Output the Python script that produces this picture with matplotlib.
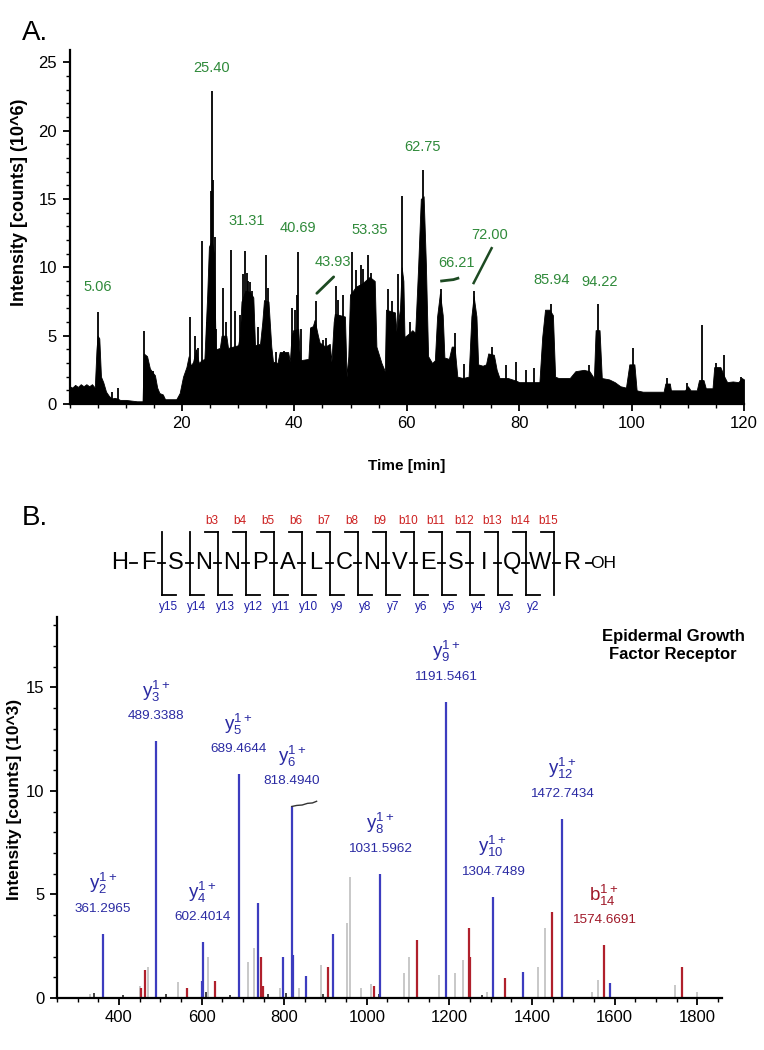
import matplotlib
matplotlib.use("Agg")
import matplotlib.pyplot as plt
from matplotlib import font_manager as fm
from matplotlib.lines import Line2D
from matplotlib.ticker import MultipleLocator

# ---------------- Panel A: chromatogram ----------------
tic_time = [0.0, 0.5, 1.0, 1.5, 2.0, 2.5, 3.0, 3.5, 4.0, 4.5, 4.8, 5.0, 5.3, 5.6, 6.0, 6.5,
            7.0, 7.5, 8.0, 8.5, 9.0, 10.0, 11.0, 12.0, 13.0, 13.2, 13.8, 14.3, 14.8, 15.2,
            15.6, 16.0, 16.6, 17.0, 19.0, 19.6, 20.2, 20.8, 21.2, 21.6, 22.0, 22.5, 23.0,
            23.5, 24.0, 24.5, 24.8, 25.3, 25.7, 26.0, 26.75, 27.05, 27.9, 28.2, 29.1, 30.0,
            30.3, 30.6, 31.3, 32.1, 32.7, 33.0, 33.9, 34.3, 34.6, 35.4, 35.9, 36.2, 37.0,
            37.4, 38.9, 39.2, 39.5, 39.8, 40.7, 41.0, 42.5, 42.8, 43.3, 43.6, 44.2, 44.5,
            45.5, 46.3, 46.6, 47.0, 47.2, 49.0, 49.3, 49.6, 49.9, 51.0, 52.0, 53.4, 54.3,
            54.6, 55.5, 56.1, 56.3, 57.9, 58.2, 58.8, 59.1, 59.4, 59.6, 60.5, 61.0, 61.5,
            62.0, 62.5, 63.0, 63.4, 63.8, 64.5, 65.0, 65.4, 65.9, 66.4, 66.7, 67.5, 68.0,
            68.5, 69.0, 70.0, 71.0, 71.5, 71.9, 72.4, 72.7, 73.5, 74.1, 74.5, 75.5, 76.0,
            76.5, 78.0, 79.5, 80.0, 82.0, 83.6, 84.1, 84.6, 85.4, 86.0, 86.4, 87.0, 89.0,
            90.0, 91.5, 92.5, 93.3, 93.6, 94.3, 94.7, 96.0, 97.0, 98.0, 99.0, 99.6, 100.5,
            100.9, 102.0, 104.0, 105.7, 106.0, 106.8, 107.0, 109.5, 110.0, 110.5, 111.6,
            112.0, 112.8, 113.2, 114.4, 114.7, 115.8, 116.5, 117.0, 118.0, 119.0, 119.6, 120.0]
tic_int = [1.3, 1.2, 1.4, 1.25, 1.45, 1.3, 1.45, 1.3, 1.45, 1.2, 4.0, 5.0, 4.8, 2.0, 1.6, 0.9,
           0.6, 0.4, 0.45, 0.4, 0.3, 0.3, 0.25, 0.2, 0.2, 3.7, 3.5, 2.6, 2.3, 2.1,
           1.2, 0.8, 0.7, 0.35, 0.35, 0.8, 2.0, 2.7, 3.5, 2.8, 3.1, 4.0, 3.0,
           3.2, 3.3, 8.0, 11.5, 12.0, 11.0, 4.0, 4.1, 5.0, 5.0, 4.1, 4.2, 4.3,
           5.0, 7.5, 8.3, 8.2, 7.8, 4.3, 4.4, 6.0, 7.6, 7.5, 4.2, 3.1, 3.0,
           3.8, 3.8, 3.1, 5.0, 5.4, 5.5, 3.2, 3.3, 5.6, 5.7, 6.15, 5.0, 4.5,
           4.2, 4.4, 3.1, 6.0, 6.6, 6.4, 2.0, 3.5, 8.0, 8.6, 8.8, 9.3, 9.0,
           4.2, 3.0, 2.4, 6.9, 6.7, 5.2, 7.0, 10.0, 9.0, 4.9, 5.2, 5.4, 5.2,
           9.8, 15.0, 15.2, 10.3, 3.5, 3.0, 3.2, 6.4, 8.1, 6.5, 3.4, 3.3, 4.2,
           4.2, 2.0, 1.9, 2.0, 6.4, 7.9, 6.4, 2.9, 2.8, 2.9, 3.7, 3.6, 2.5,
           1.9, 1.9, 1.7, 1.6, 1.6, 1.6, 4.9, 6.9, 6.9, 6.5, 2.0, 1.9, 1.9,
           2.4, 2.5, 2.4, 1.9, 5.4, 5.4, 1.9, 1.8, 1.6, 1.3, 1.2, 2.9, 2.9,
           1.0, 0.9, 0.9, 0.9, 1.5, 1.5, 1.0, 1.0, 1.3, 1.0, 1.0,
           1.75, 1.75, 1.15, 1.15, 2.7, 2.7, 2.0, 1.6, 1.65, 1.6, 1.9, 1.8]
spike_time = [5.06, 7.5, 8.7, 13.3, 14.9, 21.4, 22.3, 22.9, 23.6, 24.4, 25.1, 25.4, 25.55,
              25.8, 26.1, 27.3, 27.8, 28.8, 29.4, 30.3, 30.8, 31.3, 31.5, 31.7, 32.1, 32.4,
              33.5, 34.9, 35.3, 36.8, 38.1, 39.5, 40.1, 40.4, 40.7, 41.1, 43.0, 43.9, 45.1,
              45.6, 47.4, 47.8, 48.6, 50.3, 51.0, 51.9, 52.2, 53.1, 53.7, 56.7, 57.3, 58.5,
              59.2, 60.6, 62.9, 66.1, 68.5, 70.2, 71.9, 75.1, 77.6, 79.4, 81.2, 82.7, 85.0,
              85.6, 92.4, 94.0, 100.3, 106.3, 109.9, 112.5, 115.0, 116.4, 119.5]
spike_int = [6.75, 0.9, 1.16, 5.35, 2.4, 6.4, 5.0, 4.1, 11.9, 6.0, 15.6, 22.9, 16.4,
             12.2, 5.5, 8.5, 6.0, 11.25, 6.8, 6.5, 9.5, 11.2, 9.6, 9.0, 8.9, 8.3,
             5.6, 10.9, 8.5, 3.8, 3.9, 7.0, 6.9, 7.95, 11.1, 5.5, 5.5, 7.5, 4.7,
             4.8, 8.6, 7.6, 8.0, 11.1, 9.8, 10.2, 9.9, 10.9, 9.6, 8.45, 7.5, 9.5,
             15.2, 6.0, 17.1, 8.4, 5.17, 2.9, 8.3, 4.2, 2.85, 3.1, 2.5, 2.6, 6.7,
             7.35, 2.85, 7.35, 4.1, 1.9, 1.5, 5.8, 3.0, 3.57, 2.0]
rt_labels = ["5.06", "25.40", "31.31", "40.69", "43.93", "53.35",
             "62.75", "66.21", "72.00", "85.94", "94.22"]

# ---------------- Panel B: MS/MS spectrum ----------------
blue_mz = [361.3, 489.3, 600.5, 602.4, 689.5, 736.5, 797.0, 818.5, 820.5, 853.0, 918.0,
           1031.6, 1191.5, 1304.7, 1377.0, 1472.7, 1590.0]
blue_int = [3.1, 12.4, 0.8, 2.7, 10.8, 4.6, 2.0, 9.25, 2.1, 1.07, 3.1,
            6.0, 14.3, 4.9, 1.27, 8.65, 0.72]
red_mz = [453, 464, 564, 632, 745, 748, 906, 1018, 1121, 1247, 1249, 1335, 1448, 1574.7, 1763]
red_int = [0.5, 1.36, 0.5, 0.8, 2.0, 0.6, 1.5, 0.56, 2.8, 3.4, 2.0, 0.95, 4.15, 2.56, 1.5]
gray_mz = [330, 450, 471, 543, 616, 712, 727, 790, 835, 889, 952, 959, 985, 1010, 1090,
           1102, 1175, 1213, 1232, 1292, 1414, 1431, 1545, 1560, 1746, 1800]
gray_int = [0.2, 0.6, 1.5, 0.75, 2.0, 1.75, 2.4, 0.5, 0.5, 1.6, 3.6, 5.85, 0.5, 0.7, 1.2,
            2.0, 1.1, 1.2, 1.84, 0.3, 1.5, 3.4, 0.3, 0.85, 0.65, 0.3]
black_mz = [340, 410, 515, 610, 668, 760, 805, 895, 1030, 1280]
black_int = [0.25, 0.15, 0.2, 0.3, 0.15, 0.2, 0.25, 0.2, 0.2, 0.15]

ion_type = ["y", "y", "y", "y", "y", "y", "y", "y", "y", "b"]
ion_sub = ["2", "3", "4", "5", "6", "8", "9", "10", "12", "14"]
ion_mz = [361.2965, 489.3388, 602.4014, 689.4644, 818.4940, 1031.5962,
          1191.5461, 1304.7489, 1472.7434, 1574.6691]
ion_int = [3.1, 12.4, 2.7, 10.8, 9.25, 6.0, 14.3, 4.9, 8.65, 2.56]

residues = ["H", "F", "S", "N", "N", "P", "A", "L", "C", "N", "V", "E", "S", "I", "Q", "W", "R"]
b_labels = ["b3", "b4", "b5", "b6", "b7", "b8", "b9", "b10", "b11", "b12", "b13", "b14", "b15"]
y_labels = ["y15", "y14", "y13", "y12", "y11", "y10", "y9", "y8", "y7", "y6", "y5", "y4", "y3", "y2"]

# ---------------- fonts ----------------
names = {f.name for f in fm.fontManager.ttflist}
HAS_NARROW = "Liberation Sans Narrow" in names
NARROW = "Liberation Sans Narrow" if HAS_NARROW else "Liberation Sans"
plt.rcParams["font.family"] = [NARROW, "DejaVu Sans"]
plt.rcParams["mathtext.default"] = "regular"
TICK_FS = 13 if HAS_NARROW else 12
NUM_FS = 11 if HAS_NARROW else 9.7
GLAB_FS = 12 if HAS_NARROW else 10.5

W, H = 764, 1050
fig = plt.figure(figsize=(W / 100, H / 100), dpi=100)


def fx(x):
    return x / W


def fy(y):
    return 1 - y / H


def style_axes(ax):
    for s in ("top", "right"):
        ax.spines[s].set_visible(False)
    for s in ("left", "bottom"):
        ax.spines[s].set_linewidth(1.6)
    ax.tick_params(which="major", direction="out", length=5, width=1.3,
                   labelsize=TICK_FS, pad=4)
    ax.tick_params(which="minor", direction="out", length=3, width=1.0)


# ---------------- Panel A ----------------
axA = fig.add_axes([fx(69.5), fy(404), fx(744) - fx(69.5), fy(50) - fy(404)])
axA.fill_between(tic_time, 0, tic_int, color="black", lw=0.6, edgecolor="black")
axA.vlines(spike_time, 0, spike_int, color="black", lw=1.3)
axA.set_xlim(0, 120)
axA.set_ylim(0, 25.9)
axA.set_xticks([20, 40, 60, 80, 100, 120])
axA.set_yticks([0, 5, 10, 15, 20, 25])
axA.xaxis.set_minor_locator(MultipleLocator(5))
axA.yaxis.set_minor_locator(MultipleLocator(1))
style_axes(axA)
axA.set_xlabel("Time [min]", fontsize=11, fontweight="bold", family="Liberation Sans")
axA.xaxis.set_label_coords(0.50, -0.155)
axA.set_ylabel("Intensity [counts] (10^6)", fontsize=13, fontweight="bold",
               family="Liberation Sans")
axA.yaxis.set_label_coords(-0.062, 0.57)

green = "#2f8a3a"
label_pos = [(5.07, 8.55), (25.3, 24.6), (31.6, 13.4), (40.6, 12.9), (46.8, 10.4),
             (53.4, 12.7), (62.8, 18.8), (68.9, 10.3), (74.8, 12.35), (85.8, 9.1),
             (94.3, 8.9)]
for txt, (lx, ly) in zip(rt_labels, label_pos):
    axA.text(lx, ly, txt, color=green, fontsize=GLAB_FS, ha="center", va="center")
# small leader marks
axA.plot([44.0, 47.0], [8.1, 9.3], color="#1d4a22", lw=2.0, solid_capstyle="round")
axA.plot([66.2, 67.2, 68.3, 69.1], [9.0, 9.05, 9.1, 9.2], color="#1d4a22", lw=2.0)
axA.plot([71.9, 75.1], [8.85, 11.4], color="#1d4a22", lw=1.8)

fig.text(fx(22), fy(33), "A.", fontsize=20, ha="left", va="center", family="Liberation Sans")
fig.text(fx(22), fy(518), "B.", fontsize=20, ha="left", va="center", family="Liberation Sans")

# ---------------- Panel B ----------------
axB = fig.add_axes([fx(57), fy(998), fx(722) - fx(57), fy(617) - fy(998)])
axB.vlines(gray_mz, 0, gray_int, color="#c4c4c4", lw=1.3)
axB.vlines(black_mz, 0, black_int, color="#222222", lw=1.2)
axB.vlines(red_mz, 0, red_int, color="#b0202c", lw=1.6)
axB.vlines(blue_mz, 0, blue_int, color="#3c3cbf", lw=1.6)
axB.set_xlim(250, 1860)
axB.set_ylim(0, 18.4)
axB.set_xticks([400, 600, 800, 1000, 1200, 1400, 1600, 1800])
axB.set_yticks([0, 5, 10, 15])
axB.xaxis.set_minor_locator(MultipleLocator(50))
axB.yaxis.set_minor_locator(MultipleLocator(1))
style_axes(axB)
axB.set_ylabel("Intensity [counts] (10^3)", fontsize=12.5, fontweight="bold",
               family="Liberation Sans")
axB.yaxis.set_label_coords(-0.053, 0.52)

blue_txt = "#2b2ba3"
red_txt = "#a01828"
for kind, sub, mz, h in zip(ion_type, ion_sub, ion_mz, ion_int):
    c = red_txt if kind == "b" else blue_txt
    axB.annotate(r"$\mathregular{%s^{1+}_{%s}}$" % (kind, sub), xy=(mz, h),
                 xytext=(0, 36), textcoords="offset points", ha="center", va="center",
                 color=c, fontsize=13.5)
    axB.annotate("%.4f" % mz, xy=(mz, h), xytext=(0, 18), textcoords="offset points",
                 ha="center", va="center", color=c, fontsize=NUM_FS)
# small kinked line beside the 818 peak
k818 = ion_mz[4]
axB.plot([k818, k818 + 12, k818 + 25, k818 + 38, k818 + 50, k818 + 60],
         [9.25, 9.3, 9.32, 9.4, 9.42, 9.5], color="#333333", lw=1.0)

fig.text(fx(673), fy(645), "Epidermal Growth\nFactor Receptor", fontsize=12,
         fontweight="bold", ha="center", va="center", linespacing=1.25,
         family="Liberation Sans")

# ---------------- peptide fragment map ----------------
pep_y = 563
step = 28
x0 = 120
for i, r in enumerate(residues):
    x = x0 + step * i if i < 16 else 572
    fig.text(fx(x), fy(pep_y), r, fontsize=17, ha="center", va="center",
             family="Liberation Sans")
fig.text(fx(603), fy(pep_y + 1), "OH", fontsize=12.5, ha="center", va="center",
         family="Liberation Sans")
# bonds as dashes
for i in range(16):
    xc = x0 + step * i + 14
    if i == 15:
        xc = 557
    fig.add_artist(Line2D([fx(xc - 4), fx(xc + 3)], [fy(pep_y), fy(pep_y)],
                          color="black", lw=1.3))
fig.add_artist(Line2D([fx(586), fx(592)], [fy(pep_y), fy(pep_y)], color="black", lw=1.3))

top, bot = 532, 595
n_cut = 15
for k in range(n_cut):
    xv = 162 + step * k
    fig.add_artist(Line2D([fx(xv), fx(xv)], [fy(top), fy(bot)], color="black", lw=1.3))
    if k >= 2:
        fig.add_artist(Line2D([fx(xv - 13), fx(xv)], [fy(top), fy(top)], color="black", lw=1.3))
        fig.text(fx(xv - 6), fy(521), b_labels[k - 2], color="#cc1f1f", fontsize=8.5,
                 ha="center", va="center", family="Liberation Sans")
    if k <= 13:
        fig.add_artist(Line2D([fx(xv), fx(xv + 14)], [fy(bot), fy(bot)], color="black", lw=1.3))
        fig.text(fx(xv + 7), fy(607), y_labels[k], color="#1f1fa8", fontsize=8.5,
                 ha="center", va="center", family="Liberation Sans")

fig.savefig("out.png", dpi=100)
